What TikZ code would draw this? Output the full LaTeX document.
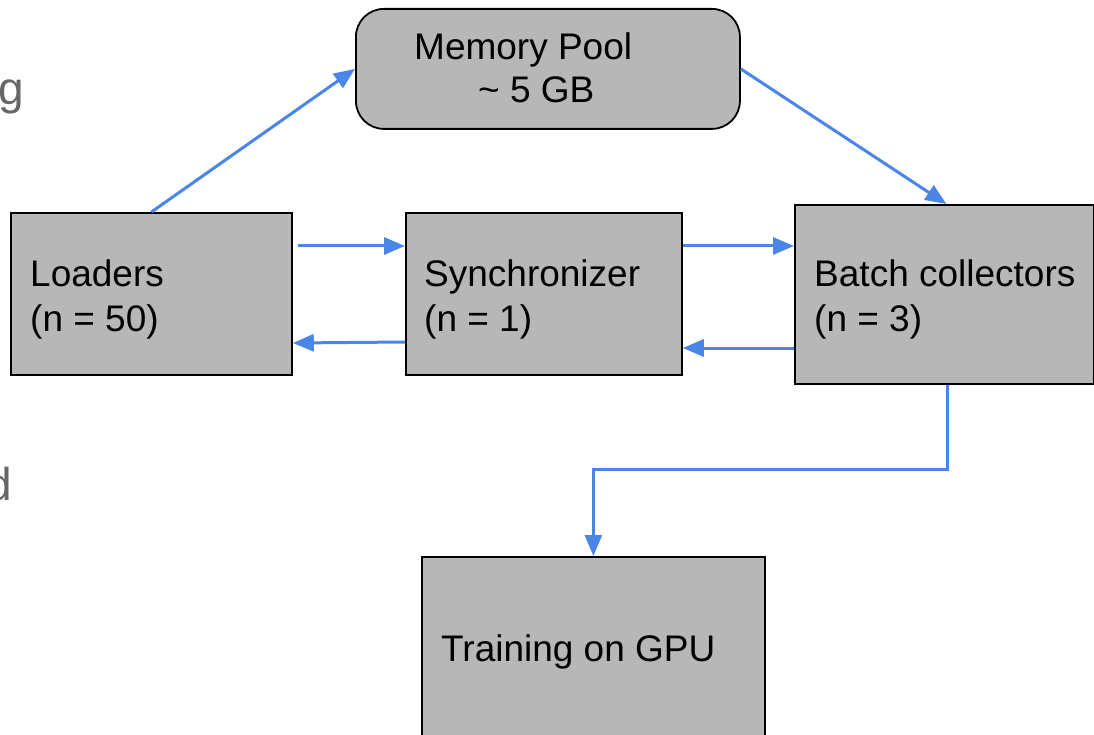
\documentclass[tikz,border=0pt]{standalone}
\usepackage{fontspec}
\setmainfont{Liberation Sans}
\usetikzlibrary{arrows.meta,calc}
\definecolor{boxgray}{HTML}{B7B7B7}
\definecolor{arrblue}{HTML}{4A86E8}
\definecolor{txtgray}{HTML}{666666}
\begin{document}
\begin{tikzpicture}[x=1pt,y=-1pt,
  box/.style={draw=black,line width=1.8pt,fill=boxgray,inner sep=0pt,anchor=north west},
  lbl/.style={inner sep=0pt,anchor=base west,font=\fontsize{37}{44}\selectfont},
  frag/.style={inner sep=0pt,anchor=base west,text=txtgray,font=\fontsize{46}{54}\selectfont},
  arr/.style={draw=arrblue,line width=3pt,-{Triangle[length=21pt,width=17pt]}}]
\path[use as bounding box] (0,0) rectangle (1094,735);
\clip (0,0) rectangle (1094,735);
% gray fragments of surrounding text
\node[frag] (fragg) at (-1.5,105) {g};
\node[frag] (fragd) at (-13.5,500) {d};
% boxes
\node[box,rounded corners=28pt,minimum width=384pt,minimum height=120pt] (mem) at (355,8) {};
\node[box,minimum width=281pt,minimum height=162pt] (loaders) at (10,212) {};
\node[box,minimum width=276pt,minimum height=162pt] (sync) at (405,212) {};
\node[box,minimum width=299pt,minimum height=179pt] (batch) at (794,204) {};
\node[box,minimum width=343pt,minimum height=200pt] (train) at (421,556) {};
% texts
\node[lbl] (memA) at (414,60) {Memory Pool};
\node[lbl] (memB) at (478,103) {\textasciitilde{} 5 GB};
\node[lbl] (loadA) at (30,287) {Loaders};
\node[lbl] (loadB) at (30,331) {(n = 50)};
\node[lbl] (syncA) at (424,287) {Synchronizer};
\node[lbl] (syncB) at (424,331) {(n = 1)};
\node[lbl] (batchA) at (814,287) {Batch collectors};
\node[lbl] (batchB) at (814,331) {(n = 3)};
\node[lbl] (trainA) at (441,661) {Training on GPU};
% connectors
\draw[arr] (loaders.north) -- (mem.west);
\draw[arr] (mem.east) -- ($(batch.north)+(2,0)$);
\draw[arr] ($(loaders.north east)+(5,34)$) -- ($(sync.north west)+(0,34)$);
\draw[arr] ($(sync.north west)+(0,130)$) -- ($(loaders.north east)+(0,131)$);
\draw[arr] ($(sync.north east)+(0,34)$) -- ($(batch.north west)+(0,42)$);
\draw[arr] ($(batch.north west)+(0,144)$) -- ($(sync.north east)+(0,136)$);
\draw[arr] ($(batch.south)+(3,0)$) -- ++(0,85) -| (train.north);
\end{tikzpicture}
\end{document}
